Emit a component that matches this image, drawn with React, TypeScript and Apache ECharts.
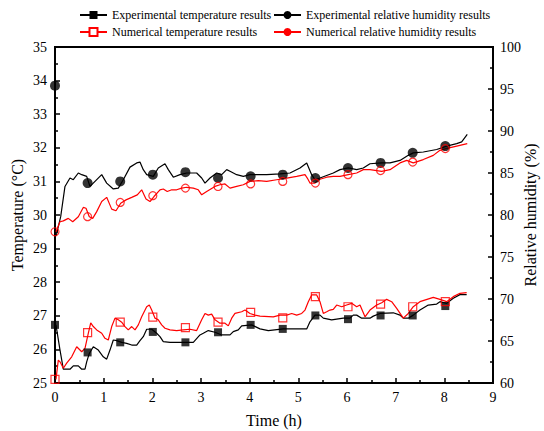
import React, { useEffect, useRef } from "react";
import * as echarts from "echarts";

// Marker sampling times (h)
const markerTimes = [0, 0.67, 1.34, 2.01, 2.68, 3.35, 4.02, 4.68, 5.35, 6.02, 6.69, 7.35, 8.02];
const expTempMarkers = [26.73, 25.91, 26.21, 26.52, 26.21, 26.51, 26.73, 26.61, 27.01, 26.9, 27.01, 27.01, 27.29];
const numTempMarkers = [25.11, 26.5, 26.81, 26.96, 26.65, 26.81, 27.1, 26.94, 27.57, 27.27, 27.35, 27.27, 27.42];
const expRHMarkers = [95.4, 83.8, 84.0, 84.8, 85.1, 84.4, 84.6, 84.8, 84.4, 85.6, 86.2, 87.4, 88.2];
const numRHMarkers = [78.0, 79.8, 81.5, 82.3, 83.2, 83.4, 83.7, 84.0, 83.8, 84.8, 85.3, 86.3, 87.9];

// Experimental relative humidity curve
const expRHTime = [0.02, 0.035, 0.117, 0.205, 0.308, 0.376, 0.479, 0.549, 0.651, 0.719, 0.822, 0.96, 1.062, 1.198, 1.301, 1.403, 1.541, 1.679, 1.746, 1.814, 1.884, 2.02, 2.122, 2.26, 2.328, 2.431, 2.568, 2.706, 2.911, 3.014, 3.082, 3.185, 3.322, 3.425, 3.528, 3.596, 3.733, 3.869, 4.007, 4.35, 4.623, 4.829, 5.034, 5.172, 5.274, 5.342, 5.445, 5.718, 5.856, 6.026, 6.199, 6.335, 6.472, 6.713, 6.883, 7.089, 7.259, 7.362, 7.568, 7.843, 8.048, 8.254, 8.356, 8.471];
const expRHVal = [77.5, 77.8, 79.8, 83.4, 84.4, 84.2, 85.0, 84.8, 84.6, 83.4, 84.0, 84.8, 83.8, 83.1, 83.2, 84.2, 85.7, 86.2, 86.3, 85.4, 84.8, 84.6, 85.6, 86.1, 85.4, 84.5, 84.8, 85.0, 85.0, 84.4, 83.8, 84.4, 85.0, 84.8, 85.4, 85.2, 84.8, 84.6, 84.8, 84.8, 84.9, 85.0, 85.6, 86.2, 84.8, 84.2, 84.4, 85.0, 85.4, 85.6, 85.4, 85.6, 86.1, 86.2, 86.2, 86.5, 87.1, 87.4, 87.5, 87.8, 88.2, 88.5, 88.7, 89.6];

// Numerical relative humidity curve
const numRHTime = [0.02, 0.103, 0.171, 0.273, 0.364, 0.479, 0.581, 0.637, 0.705, 0.775, 0.857, 0.96, 1.062, 1.165, 1.253, 1.35, 1.459, 1.576, 1.691, 1.781, 1.87, 1.952, 2.034, 2.157, 2.225, 2.307, 2.398, 2.5, 2.603, 2.706, 2.842, 2.944, 3.014, 3.117, 3.287, 3.39, 3.493, 3.596, 3.733, 3.869, 4.007, 4.177, 4.35, 4.555, 4.761, 4.966, 5.137, 5.184, 5.239, 5.342, 5.41, 5.583, 5.718, 5.856, 6.026, 6.199, 6.335, 6.472, 6.713, 6.883, 7.089, 7.226, 7.362, 7.568, 7.773, 7.91, 8.034, 8.254, 8.471];
const numRHVal = [78.0, 79.2, 79.3, 79.6, 79.2, 79.8, 80.9, 80.8, 79.8, 79.6, 80.4, 81.6, 82.1, 80.7, 80.5, 81.4, 81.8, 82.1, 82.4, 83.0, 81.9, 81.6, 82.2, 83.0, 83.1, 82.8, 83.0, 83.0, 83.2, 83.3, 83.2, 83.0, 82.4, 82.8, 83.4, 83.6, 83.7, 83.2, 83.4, 83.6, 84.0, 84.1, 84.0, 84.2, 84.4, 84.6, 84.8, 84.4, 83.8, 83.8, 84.2, 84.5, 84.6, 84.6, 84.8, 85.0, 85.4, 85.4, 85.2, 85.4, 86.2, 86.5, 86.2, 86.6, 87.1, 87.7, 87.9, 88.2, 88.5];

// Experimental temperature curve
const expTempTime = [0.02, 0.103, 0.171, 0.308, 0.376, 0.479, 0.549, 0.616, 0.651, 0.705, 0.787, 0.89, 0.992, 1.062, 1.13, 1.198, 1.268, 1.37, 1.473, 1.576, 1.679, 1.746, 1.814, 1.884, 1.987, 2.089, 2.157, 2.225, 2.363, 2.842, 2.979, 3.047, 3.15, 3.288, 3.425, 3.596, 3.663, 3.766, 3.836, 4.041, 4.212, 4.383, 4.691, 5.172, 5.239, 5.342, 5.445, 5.513, 5.685, 5.924, 6.061, 6.129, 6.199, 6.302, 6.472, 6.54, 6.678, 6.951, 7.089, 7.157, 7.259, 7.362, 7.499, 7.67, 7.843, 7.91, 8.048, 8.184, 8.321, 8.459];
const expTempVal = [26.73, 25.98, 25.41, 25.41, 25.51, 25.51, 25.41, 25.41, 25.63, 25.88, 26.08, 25.98, 25.78, 25.71, 25.98, 26.28, 26.26, 26.21, 26.18, 26.13, 26.13, 26.26, 26.38, 26.6, 26.6, 26.48, 26.38, 26.23, 26.21, 26.21, 26.43, 26.48, 26.56, 26.51, 26.43, 26.43, 26.53, 26.58, 26.7, 26.73, 26.61, 26.56, 26.61, 26.61, 26.82, 27.02, 27.02, 26.93, 26.88, 26.93, 26.93, 27.02, 27.02, 26.93, 26.93, 26.99, 27.07, 27.09, 27.02, 26.93, 26.93, 27.02, 27.17, 27.32, 27.35, 27.42, 27.37, 27.52, 27.63, 27.63];

// Numerical temperature curve
const numTempTime = [0.02, 0.068, 0.103, 0.171, 0.24, 0.343, 0.446, 0.549, 0.616, 0.684, 0.734, 0.787, 0.857, 0.96, 1.027, 1.095, 1.165, 1.233, 1.301, 1.37, 1.438, 1.506, 1.576, 1.644, 1.712, 1.781, 1.884, 1.938, 1.987, 2.055, 2.122, 2.192, 2.26, 2.363, 2.5, 2.636, 2.774, 2.911, 3.014, 3.082, 3.15, 3.219, 3.288, 3.39, 3.493, 3.561, 3.631, 3.698, 3.836, 3.904, 4.007, 4.109, 4.212, 4.485, 4.623, 4.761, 4.864, 4.966, 5.069, 5.137, 5.205, 5.274, 5.377, 5.445, 5.513, 5.583, 5.65, 5.718, 5.788, 5.891, 5.993, 6.096, 6.199, 6.267, 6.37, 6.472, 6.61, 6.713, 6.815, 6.918, 7.021, 7.157, 7.259, 7.362, 7.499, 7.773, 7.91, 8.048, 8.184, 8.321, 8.459];
const numTempVal = [25.11, 25.68, 25.63, 25.44, 25.59, 25.78, 26.08, 25.93, 26.03, 26.48, 26.79, 26.68, 26.58, 26.48, 26.33, 26.28, 26.68, 26.93, 26.88, 26.81, 26.68, 26.58, 26.68, 26.58, 26.73, 26.97, 27.27, 27.32, 27.17, 26.93, 26.88, 26.73, 26.63, 26.58, 26.56, 26.58, 26.6, 26.56, 26.88, 27.07, 27.02, 27.05, 26.88, 26.78, 26.78, 26.7, 26.93, 27.07, 27.12, 27.17, 27.07, 27.02, 26.99, 26.97, 27.02, 27.02, 27.07, 27.02, 27.07, 27.17, 27.42, 27.62, 27.62, 27.42, 27.07, 27.12, 27.17, 27.19, 27.32, 27.27, 27.32, 27.37, 27.27, 27.32, 26.97, 27.17, 27.32, 27.39, 27.49, 27.42, 27.22, 26.93, 27.07, 27.27, 27.42, 27.55, 27.49, 27.42, 27.57, 27.67, 27.69];

const NAME_EXP_T = "Experimental temperature results";
const NAME_EXP_RH = "Experimental relative humidity results";
const NAME_NUM_T = "Numerical temperature results";
const NAME_NUM_RH = "Numerical relative humidity results";

const FONT = "'Liberation Serif', 'Times New Roman', serif";
const RED = "#ff0000";

const zip = (xs: number[], ys: number[]) => xs.map((x, i) => [x, ys[i]]);

export default function App() {
  const ref = useRef<HTMLDivElement>(null);
  useEffect(() => {
    const chart = echarts.init(ref.current!, null, { renderer: "svg" });
    const axisCommon = {
      axisLine: { show: true, onZero: false, lineStyle: { color: "#000", width: 2 } },
      axisTick: { show: true, inside: true, length: 5, lineStyle: { color: "#000", width: 1.5 } },
      minorTick: { show: true, splitNumber: 2, length: 3, lineStyle: { color: "#000", width: 1.5 } },
      splitLine: { show: false },
      axisLabel: { color: "#000", fontFamily: FONT, fontSize: 14 },
      nameTextStyle: { color: "#000", fontFamily: FONT, fontSize: 16 },
      nameMoveOverlap: false,
    };
    const lineSeries = (name: string, data: number[][], yAxisIndex: number, color: string, symbol: string) => ({
      type: "line",
      name,
      data,
      yAxisIndex,
      symbol,
      symbolSize: 8,
      showSymbol: false,
      color,
      lineStyle: { color, width: 1.2 },
      silent: true,
      z: 2,
    });
    const markerSeries = (name: string, data: number[][], yAxisIndex: number, symbol: string, filled: boolean, size: number, color: string) => ({
      type: "scatter",
      name,
      data,
      yAxisIndex,
      symbol,
      symbolSize: size,
      itemStyle: filled
        ? { color }
        : { color: "rgba(255,255,255,0)", borderColor: color, borderWidth: 1.2 },
      silent: true,
      z: 4,
    });
    const legendCommon = {
      orient: "vertical",
      top: 9,
      padding: 0,
      itemWidth: 27,
      itemHeight: 10,
      itemGap: 5,
      textStyle: { color: "#000", fontFamily: FONT, fontSize: 12 },
      selectedMode: false,
    };
    chart.setOption({
      animation: false,
      backgroundColor: "#fff",
      grid: {
        left: 55, right: 51, top: 47, bottom: 48,
        outerBoundsMode: "none",
        containLabel: false,
        show: true, borderColor: "#000", borderWidth: 2,
      },
      legend: [
        { ...legendCommon, left: 79, data: [NAME_EXP_T, NAME_NUM_T] },
        { ...legendCommon, left: 273, data: [NAME_EXP_RH, NAME_NUM_RH] },
      ],
      xAxis: {
        type: "value",
        min: 0,
        max: 9,
        interval: 1,
        name: "Time (h)",
        nameLocation: "middle",
        nameGap: 29,
        ...axisCommon,
        axisLabel: { ...axisCommon.axisLabel, margin: 7 },
      },
      yAxis: [
        {
          type: "value",
          position: "left",
          min: 25,
          max: 35,
          interval: 1,
          name: "Temperature (°C)",
          nameLocation: "middle",
          nameRotate: 90,
          nameGap: 30,
          ...axisCommon,
          axisLabel: { ...axisCommon.axisLabel, margin: 8 },
        },
        {
          type: "value",
          position: "right",
          min: 60,
          max: 100,
          interval: 5,
          name: "Relative humidity (%)",
          nameLocation: "middle",
          nameRotate: 90,
          nameGap: 29,
          ...axisCommon,
          axisLabel: { ...axisCommon.axisLabel, margin: 7 },
        },
      ],
      series: [
        lineSeries(NAME_EXP_T, zip(expTempTime, expTempVal), 0, "#000", "rect"),
        lineSeries(NAME_EXP_RH, zip(expRHTime, expRHVal), 1, "#000", "circle"),
        lineSeries(NAME_NUM_T, zip(numTempTime, numTempVal), 0, RED, "emptyRect"),
        lineSeries(NAME_NUM_RH, zip(numRHTime, numRHVal), 1, RED, "circle"),
        markerSeries(NAME_EXP_T, zip(markerTimes, expTempMarkers), 0, "rect", true, 8, "#000"),
        markerSeries(NAME_EXP_RH, zip(markerTimes, expRHMarkers), 1, "circle", true, 10, "#000"),
        markerSeries(NAME_NUM_T, zip(markerTimes, numTempMarkers), 0, "rect", false, 8, RED),
        markerSeries(NAME_NUM_RH, zip(markerTimes, numRHMarkers), 1, "circle", false, 8, RED),
      ],
    });
    return () => chart.dispose();
  }, []);
  return <div ref={ref} style={{ position: "fixed", left: 0, top: 0, width: 544, height: 431 }} />;
}
